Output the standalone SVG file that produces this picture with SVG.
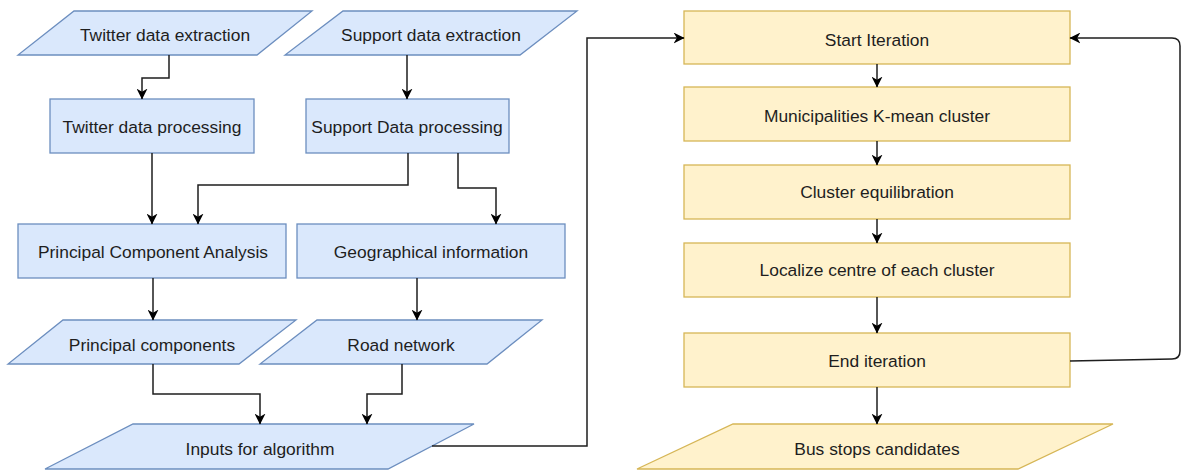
<svg xmlns="http://www.w3.org/2000/svg" width="1182" height="470" viewBox="0 0 1182 470">
  <style>
    .blue { fill: #dae8fc; stroke: #6c8ebf; stroke-width: 1.3; }
    .yellow { fill: #fff2cc; stroke: #d6b656; stroke-width: 1.3; }
    .label { font-family: "Liberation Sans", Arial, sans-serif; font-size: 17.4px; fill: #1e1e1e; text-anchor: middle; }
    .edge { fill: none; stroke: #1e1e1e; stroke-width: 1.5; }
    .arrow { marker-end: url(#head); }
  </style>
  <defs>
    <marker id="head" viewBox="0 0 10 10" refX="9.5" refY="5" markerWidth="11" markerHeight="11" markerUnits="userSpaceOnUse" orient="auto">
      <path d="M0,0 L10,5 L0,10 L3,5 Z" fill="#000"/>
    </marker>
  </defs>

  <rect width="1182" height="470" fill="#ffffff"/>

  <!-- left data-preparation column -->
  <g id="twitter-extraction">
    <polygon class="blue" points="74,11 312,11 257,55 18,55"/>
    <text class="label" x="165" y="41">Twitter data extraction</text>
  </g>
  <g id="support-extraction">
    <polygon class="blue" points="343,11 577,11 520,55 285,55"/>
    <text class="label" x="431" y="41">Support data extraction</text>
  </g>
  <g id="twitter-processing">
    <rect class="blue" x="50" y="99" width="204" height="54"/>
    <text class="label" x="152" y="133">Twitter data processing</text>
  </g>
  <g id="support-processing">
    <rect class="blue" x="306" y="99" width="203" height="54"/>
    <text class="label" x="407" y="133">Support Data processing</text>
  </g>
  <g id="pca">
    <rect class="blue" x="18" y="224" width="268" height="54"/>
    <text class="label" x="153" y="258">Principal Component Analysis</text>
  </g>
  <g id="geo-info">
    <rect class="blue" x="297" y="224" width="268" height="54"/>
    <text class="label" x="431" y="258">Geographical information</text>
  </g>
  <g id="principal-components">
    <polygon class="blue" points="63,320 296,320 239,364 8,364"/>
    <text class="label" x="152" y="351">Principal components</text>
  </g>
  <g id="road-network">
    <polygon class="blue" points="317,320 542,320 487,364 260,364"/>
    <text class="label" x="401" y="351">Road network</text>
  </g>
  <g id="inputs">
    <polygon class="blue" points="133,424 474,424 388,469 45,469"/>
    <text class="label" x="260" y="455">Inputs for algorithm</text>
  </g>

  <!-- right iteration column -->
  <g id="start-iteration">
    <rect class="yellow" x="684" y="11" width="386" height="53"/>
    <text class="label" x="877" y="46">Start Iteration</text>
  </g>
  <g id="kmean">
    <rect class="yellow" x="684" y="87" width="386" height="54"/>
    <text class="label" x="877" y="122">Municipalities K-mean cluster</text>
  </g>
  <g id="equilibration">
    <rect class="yellow" x="684" y="165" width="386" height="54"/>
    <text class="label" x="877" y="198">Cluster equilibration</text>
  </g>
  <g id="localize">
    <rect class="yellow" x="684" y="243" width="386" height="54"/>
    <text class="label" x="877" y="276">Localize centre of each cluster</text>
  </g>
  <g id="end-iteration">
    <rect class="yellow" x="684" y="333" width="386" height="54"/>
    <text class="label" x="877" y="367">End iteration</text>
  </g>
  <g id="bus-stops">
    <polygon class="yellow" points="733,424 1113,424 1018,469 637,469"/>
    <text class="label" x="877" y="455">Bus stops candidates</text>
  </g>

  <!-- connectors -->
  <g id="connectors">
    <path class="edge arrow" d="M169,55 V78 H142 V99"/>
    <path class="edge arrow" d="M407,55 V99"/>
    <path class="edge arrow" d="M152,153 V224"/>
    <path class="edge arrow" d="M408,153 V185 H198 V224"/>
    <path class="edge arrow" d="M458,153 V188 H496 V224"/>
    <path class="edge arrow" d="M153,278 V320"/>
    <path class="edge arrow" d="M417,278 V320"/>
    <path class="edge arrow" d="M153,364 V394 H260 V424"/>
    <path class="edge arrow" d="M402,364 V394 H367 V424"/>
    <path class="edge arrow" d="M432,446 H587 V38 H684"/>
    <path class="edge arrow" d="M877,64 V87"/>
    <path class="edge arrow" d="M877,141 V165"/>
    <path class="edge arrow" d="M877,219 V243"/>
    <path class="edge arrow" d="M877,297 V333"/>
    <path class="edge arrow" d="M877,387 V424"/>
    <path class="edge arrow" d="M1070,361 L1172,359 Q1180,359 1180,351 V46 Q1180,38 1172,38 H1070"/>
  </g>
</svg>
